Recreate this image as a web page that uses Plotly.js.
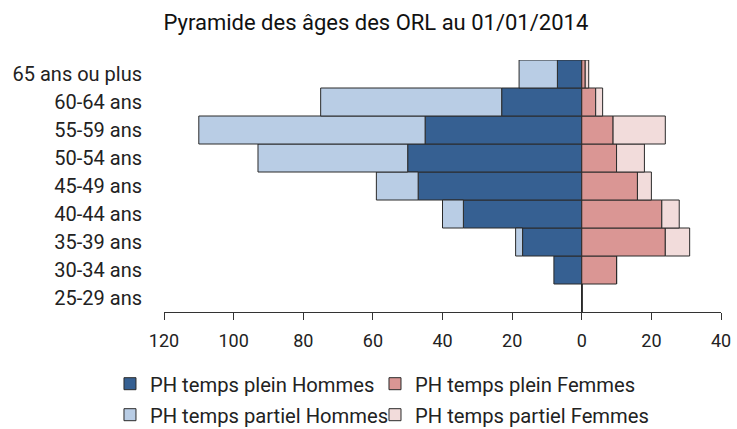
<!DOCTYPE html>
<html>
<head>
<meta charset="utf-8">
<script src="https://cdn.plot.ly/plotly-3.0.1.min.js"></script>
<style>html,body{margin:0;padding:0;background:#fff;}#chart{width:737px;height:429px;}</style>
</head>
<body>
<div id="chart"></div>
<script>
const categories = ["25-29 ans","30-34 ans","35-39 ans","40-44 ans","45-49 ans","50-54 ans","55-59 ans","60-64 ans","65 ans ou plus"];
const pleinHommes   = [0, 8, 17, 34, 47, 50, 45, 23, 7];
const partielHommes = [0, 0, 2, 6, 12, 43, 65, 52, 11];
const pleinFemmes   = [0, 10, 24, 23, 16, 10, 9, 4, 1];
const partielFemmes = [0, 0, 7, 5, 4, 8, 15, 2, 1];
const tickValues = [-120,-100,-80,-60,-40,-20,0,20,40];
const tickLabels = ["120","100","80","60","40","20","0","20","40"];

const FONT = "Roboto, 'Open Sans', sans-serif";
const line = {color: "#2a2a2a", width: 1};
function tr(name, vals, color, neg, leg){
  return {type:"bar", orientation:"h", name:name, y:categories,
    x: vals.map(v => neg ? -v : v), legend:leg,
    marker:{color:color, line:line}, hoverinfo:"x+y"};
}
const data = [
  tr("PH temps plein Hommes", pleinHommes, "#366092", true, "legend"),
  tr("PH temps plein Femmes", pleinFemmes, "#da9694", false, "legend2"),
  tr("PH temps partiel Hommes", partielHommes, "#b9cde5", true, "legend3"),
  tr("PH temps partiel Femmes", partielFemmes, "#f2dcdb", false, "legend4")
];
function leg(x, y){
  return {orientation:"h", x:x, xanchor:"left", y:y, yanchor:"middle",
    font:{size:20.2, color:"#222"}, itemwidth:30, bgcolor:"rgba(0,0,0,0)"};
}
const layout = {
  width:737, height:429,
  margin:{l:164, r:16, t:60, b:117, autoexpand:false},
  paper_bgcolor:"#fff", plot_bgcolor:"#fff",
  font:{family:FONT, color:"#222", size:16},
  title:{text:"Pyramide des âges des ORL au 01/01/2014", font:{family:FONT, size:22, color:"#111"}, x:0.51, xanchor:"center", y:0.948, yanchor:"middle"},
  barmode:"relative", bargap:0,
  xaxis:{range:[-120,40], tickvals:tickValues, ticktext:tickLabels, showgrid:false,
    zeroline:true, zerolinecolor:"#555", zerolinewidth:1,
    showline:true, linecolor:"#333", linewidth:1, ticks:"outside", ticklen:7, tickcolor:"#333",
    ticklabelstandoff:5, tickfont:{size:18, color:"#222"}, fixedrange:true},
  yaxis:{type:"category", range:[-0.5,8.5], showgrid:false, zeroline:false, showline:false,
    ticks:"", ticklabelstandoff:21, tickfont:{size:20, color:"#222"}, fixedrange:true},
  showlegend:true,
  legend: leg(-0.097, -0.286),
  legend2: leg(0.3788, -0.286),
  legend3: leg(-0.097, -0.409),
  legend4: leg(0.3788, -0.409)
};
Plotly.newPlot("chart", data, layout, {displayModeBar:false, staticPlot:true});
</script>
</body>
</html>
